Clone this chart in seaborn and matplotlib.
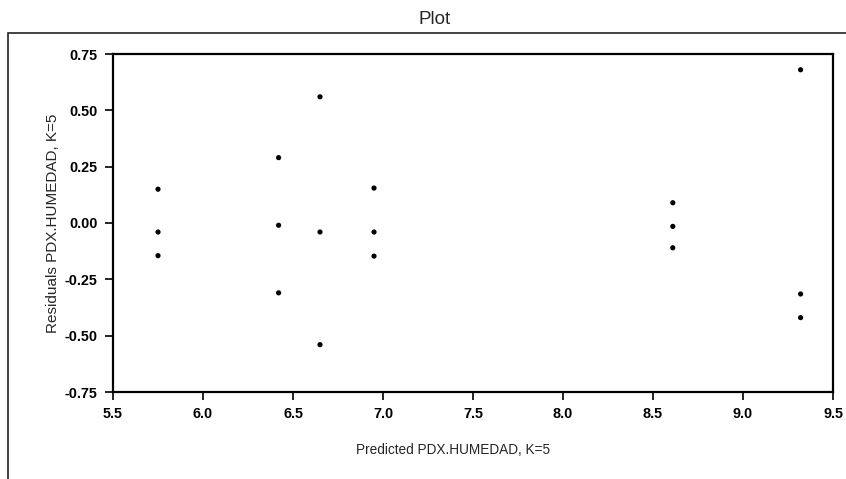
import pandas as pd
import matplotlib
matplotlib.use('Agg')
from matplotlib import pyplot as plt
from matplotlib.patches import Rectangle
import seaborn as sns

# predicted values (x) and residuals (y)
predicted = [5.75, 5.75, 5.75,
             6.42, 6.42, 6.42,
             6.65, 6.65, 6.65,
             6.95, 6.95, 6.95,
             8.61, 8.61, 8.61,
             9.32, 9.32, 9.32]
residuals = [0.15, -0.04, -0.145,
             0.29, -0.01, -0.31,
             0.56, -0.04, -0.54,
             0.155, -0.04, -0.147,
             0.09, -0.015, -0.11,
             0.68, -0.315, -0.42]

x_ticks = [5.5, 6.0, 6.5, 7.0, 7.5, 8.0, 8.5, 9.0, 9.5]
y_ticks = [-0.75, -0.50, -0.25, 0.00, 0.25, 0.50, 0.75]

df = pd.DataFrame({'pred': predicted, 'resid': residuals})

sns.set_style('ticks')
plt.rcParams['font.family'] = ['Liberation Sans', 'DejaVu Sans']

W, H = 846, 479
fig = plt.figure(figsize=(W / 100, H / 100), dpi=100)
ax = fig.add_axes([113 / W, 1 - 392 / H, (833 - 113) / W, (392 - 54) / H])

sns.scatterplot(data=df, x='pred', y='resid', ax=ax, color='black',
                s=14, edgecolor='none', linewidth=0)

ax.set_xlim(5.5, 9.5)
ax.set_ylim(-0.75, 0.75)
ax.set_xticks(x_ticks)
ax.set_xticklabels([f'{t:.1f}' for t in x_ticks])
ax.set_yticks(y_ticks)
ax.set_yticklabels([f'{t:.2f}' for t in y_ticks])
ax.tick_params(direction='out', length=6, width=1.2, labelsize=10.4,
               colors='black', pad=5)
for lab in ax.get_xticklabels() + ax.get_yticklabels():
    lab.set_fontweight('bold')
for s in ax.spines.values():
    s.set_visible(True)
    s.set_linewidth(1.6)
    s.set_color('black')
ax.set_xlabel('')
ax.set_ylabel('Residuals PDX.HUMEDAD, K=5', fontsize=11)
ax.yaxis.set_label_coords((60 - 113) / (833 - 113), 0.5)

fig.text(453 / W, 1 - 450 / H, 'Predicted PDX.HUMEDAD, K=5', fontsize=9.8,
         ha='center', va='center')
fig.text(435 / W, 1 - 20 / H, 'Plot', fontsize=13.5, ha='center', va='center')

# outer frame (only left and top edges show)
fig.patches.append(Rectangle((8 / W, -0.1), 1.1, 1 - 33 / H + 0.1,
                             transform=fig.transFigure, fill=False,
                             edgecolor='#222222', linewidth=1.2))

fig.savefig('out.png', dpi=100)
